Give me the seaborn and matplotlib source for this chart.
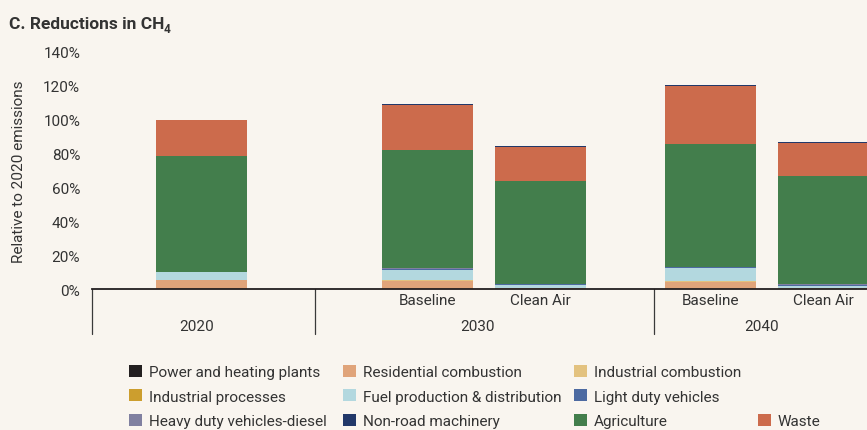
import matplotlib
matplotlib.use("Agg")
import matplotlib.pyplot as plt
from matplotlib.patches import Patch
import numpy as np
import pandas as pd
import seaborn as sns

# ---- data: CH4 emissions by source, % of 2020 total ----
scenarios = ["2020", "2030 Baseline", "2030 Clean Air", "2040 Baseline", "2040 Clean Air"]
sub_labels = ["", "Baseline", "Clean Air", "Baseline", "Clean Air"]
year_labels = ["2020", "2030", "2040"]

sectors = ["Power and heating plants", "Residential combustion", "Industrial combustion",
           "Industrial processes", "Fuel production & distribution", "Light duty vehicles",
           "Heavy duty vehicles-diesel", "Agriculture", "Waste", "Non-road machinery"]

power       = [0.1, 0.1, 0.1, 0.1, 0.1]
residential = [5.1, 4.8, 0.2, 4.2, 0.1]
ind_comb    = [0.3, 0.3, 0.1, 0.5, 0.1]
ind_proc    = [0.1, 0.1, 0.1, 0.1, 0.1]
fuel        = [4.2, 6.2, 2.0, 7.3, 1.6]
light_duty  = [0.3, 0.2, 0.2, 0.6, 0.6]
heavy_duty  = [0.2, 0.5, 0.5, 0.1, 0.1]
agriculture = [68.3, 69.8, 60.4, 72.8, 63.9]
waste       = [21.0, 26.5, 20.3, 34.1, 19.7]
non_road    = [0.4, 0.5, 0.5, 0.5, 0.5]

colors = {
    "Power and heating plants": "#231f20",
    "Residential combustion": "#e0a47a",
    "Industrial combustion": "#e3c27f",
    "Industrial processes": "#cc9e2e",
    "Fuel production & distribution": "#b3d8df",
    "Light duty vehicles": "#4d6aa1",
    "Heavy duty vehicles-diesel": "#8080a0",
    "Non-road machinery": "#223869",
    "Agriculture": "#437e4c",
    "Waste": "#cc6b4c",
}

series = [power, residential, ind_comb, ind_proc, fuel, light_duty,
          heavy_duty, agriculture, waste, non_road]

# ---- layout ----
bar_slots = [0.0, 2.0, 3.0, 4.5, 5.5]      # x slot of each bar
separators = [1.0, 4.0]                     # group dividers below the axis
year_x = [-0.04, 2.44, 4.96]
BG = "#f9f5ef"
TXT = "#333333"
FS = 11

sns.set_theme(style="white")
plt.rcParams["font.family"] = ["Roboto", "DejaVu Sans"]
plt.rcParams["text.color"] = TXT

W, H = 867, 431
fig = plt.figure(figsize=(W / 100, H / 100), dpi=100, facecolor=BG)
ax = fig.add_axes([92 / W, 1 - 290 / H, 1 - 92 / W, (290 - 53) / H])
ax.set_facecolor(BG)

# cumulative stack, drawn from the tallest layer down
rows = []
for name, vals in zip(sectors, series):
    for scen, slot, v in zip(scenarios, bar_slots, vals):
        rows.append({"sector": name, "scenario": scen, "slot": slot, "value": v})
df = pd.DataFrame(rows)
df["sector"] = pd.Categorical(df["sector"], categories=sectors, ordered=True)
df = df.sort_values(["scenario", "sector"])
df["top"] = df.groupby("scenario")["value"].cumsum()

for name in reversed(sectors):
    layer = df[df["sector"] == name]
    sns.barplot(data=layer, x="slot", y="top", native_scale=True, width=0.805,
                color=colors[name], saturation=1, errorbar=None, linewidth=0, ax=ax)

ax.set_xlim(-0.969, 5.889)
ax.set_ylim(0, 140)
ax.set_yticks(np.arange(0, 141, 20))
ax.set_yticklabels([f"{t}%" for t in range(0, 141, 20)])
ax.tick_params(axis="y", length=0, pad=8.5, labelsize=FS, labelcolor=TXT)
ax.set_xticks([])
ax.set_xlabel("")
ax.set_ylabel("")
for s in ["top", "right", "left"]:
    ax.spines[s].set_visible(False)
ax.spines["bottom"].set_color("#231f20")
ax.spines["bottom"].set_linewidth(1.3)

# group dividers and category labels under the axis
trans = ax.get_xaxis_transform()
for xs in [ax.get_xlim()[0]] + separators:
    ax.plot([xs, xs], [0, -0.19], transform=trans, color="#3a3a3a", lw=0.9,
            clip_on=False)
for slot, lab in zip(bar_slots, sub_labels):
    if lab:
        ax.text(slot, -0.047, lab, transform=trans, ha="center", va="center",
                fontsize=FS, color=TXT)
for xs, lab in zip(year_x, year_labels):
    ax.text(xs, -0.157, lab, transform=trans, ha="center", va="center",
            fontsize=FS, color=TXT)

# axis title and panel title
fig.text(19 / W, 1 - 172 / H, "Relative to 2020 emissions", rotation=90,
         ha="center", va="center", fontsize=FS, color=TXT)
title = fig.text(9 / W, 1 - 29 / H, "C. Reductions in CH", ha="left", va="baseline",
                 fontsize=12.5, fontweight="bold", color=TXT)
fig.canvas.draw()
bb = title.get_window_extent()
fig.text((bb.x1 - 1) / W, 1 - 33 / H, "4", ha="left", va="baseline",
         fontsize=8.5, fontweight="bold", color=TXT)

# legend laid out as a grid of four columns (empty slots keep rows aligned)
legend_cols = [
    (129, ["Power and heating plants", "Industrial processes", "Heavy duty vehicles-diesel"]),
    (343, ["Residential combustion", "Fuel production & distribution", "Non-road machinery"]),
    (574, ["Industrial combustion", "Light duty vehicles", "Agriculture"]),
    (758, [None, None, "Waste"]),
]
for x0, names in legend_cols:
    handles = []
    for n in names:
        if n is None:
            handles.append(Patch(facecolor="none", edgecolor="none", label=" "))
        else:
            handles.append(Patch(facecolor=colors[n], edgecolor="none", label=n))
    leg = fig.legend(handles=handles, loc="upper left",
                     bbox_to_anchor=(x0 / W, 1 - 366 / H), frameon=False,
                     fontsize=FS, handlelength=0.85, handleheight=0.85,
                     handletextpad=0.45, labelspacing=0.65, borderpad=0,
                     borderaxespad=0)
    for t in leg.get_texts():
        t.set_color(TXT)

fig.savefig("out.png", dpi=100, facecolor=BG)
